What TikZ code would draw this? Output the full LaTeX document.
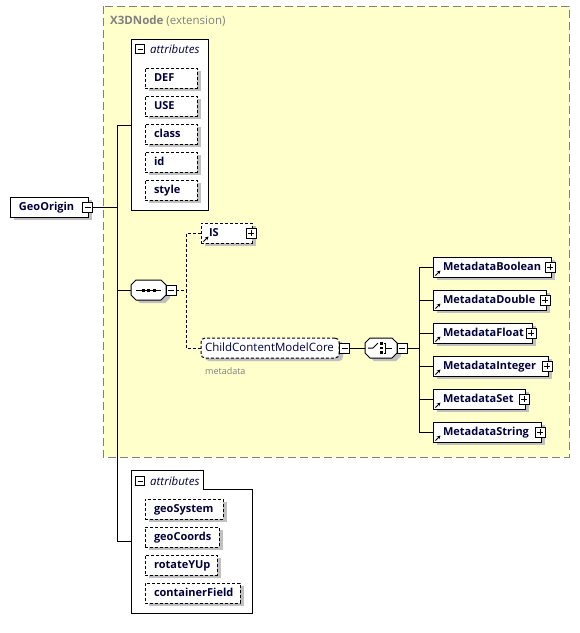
\documentclass[tikz,border=0pt]{standalone}
\usepackage{fontspec}
\setmainfont{Open Sans}
\usetikzlibrary{shadows,arrows.meta}
\definecolor{extfill}{RGB}{255,255,204}
\definecolor{extline}{RGB}{128,128,128}
\definecolor{shgray}{RGB}{192,192,192}
\definecolor{txt}{RGB}{0,0,60}
\definecolor{graytxt}{RGB}{128,128,128}
\tikzset{
 base/.style={line width=1pt, fill=white, inner sep=0pt, minimum height=20pt, text height=9pt, text depth=3pt, text=txt,
   drop shadow={shadow xshift=4pt, shadow yshift=-3pt, fill=shgray, opacity=1}},
 elem/.style={base, draw, font=\bfseries\fontsize{11}{13}\selectfont},
 optelem/.style={elem, dash pattern=on 3pt off 2pt},
 grp/.style={base, draw, dash pattern=on 3pt off 2pt, rounded corners=4pt, font=\fontsize{11.5}{13}\selectfont},
 minus/.style={draw, fill=white, line width=0.9pt, minimum size=10pt, inner sep=0pt,
   path picture={\draw[line width=0.9pt] ([xshift=2pt]path picture bounding box.west) -- ([xshift=-2pt]path picture bounding box.east);}},
 plus/.style={draw, fill=white, line width=0.9pt, minimum size=10pt, inner sep=0pt,
   path picture={\draw[line width=0.9pt] ([xshift=2pt]path picture bounding box.west) -- ([xshift=-2pt]path picture bounding box.east)
     ([yshift=2pt]path picture bounding box.south) -- ([yshift=-2pt]path picture bounding box.north);}},
 conn/.style={line width=1pt},
 dconn/.style={line width=1pt, dash pattern=on 3pt off 2pt},
 hdr/.style={anchor=west, inner sep=0pt, font=\itshape\fontsize{11.5}{13}\selectfont, text=txt},
 arrowicon/.style={line width=1pt, -{Stealth[length=3.5pt,width=3.5pt]}}
}
\newcommand\mkbox[7]{\node[#1, minimum width=#5pt, text width=#5pt, align=left] (#2) at ({#3+#5/2},#4) {\hspace*{#6pt}#7};}
\newcommand\mkplus[1]{\node[plus] (#1p) at ([xshift=-1.5pt]#1.east) {};}
\newcommand\mkarrow[1]{\draw[arrowicon] ([shift={(3pt,2pt)}]#1.south west) -- ++(5,-5);}
\newcommand\octshape[5]{%
 \fill[shgray,shift={(4,3)}] ({#1+#5},#2) -- ({#3-#5},#2) -- (#3,{#2+#5}) -- (#3,{#4-#5}) -- ({#3-#5},#4) -- ({#1+#5},#4) -- (#1,{#4-#5}) -- (#1,{#2+#5}) -- cycle;
 \draw[line width=1pt, fill=white] ({#1+#5},#2) -- ({#3-#5},#2) -- (#3,{#2+#5}) -- (#3,{#4-#5}) -- ({#3-#5},#4) -- ({#1+#5},#4) -- (#1,{#4-#5}) -- (#1,{#2+#5}) -- cycle;}
\begin{document}
\begin{tikzpicture}[x=1pt,y=-1pt]
\useasboundingbox (0,0) rectangle (580,633);
% extension area
\draw[extline, fill=extfill, line width=1pt, dash pattern=on 8pt off 4pt] (103,6) rectangle (569,457);
\node[anchor=base west, inner sep=0pt, text=graytxt, font=\fontsize{11.5}{13}\selectfont] (ext) at (110,24) {\textbf{X3DNode} (extension)};
% attributes 1
\node[draw, fill=white, line width=1pt, minimum width=77pt, minimum height=171pt, anchor=north west, inner sep=0pt] (attr1) at (131,39) {};
\node[minus, minimum size=9pt] (attr1m) at (140,49) {};
\node[hdr] (attr1t) at (150,49) {attributes};
\mkbox{optelem}{def}{145}{78}{52}{9}{DEF}
\mkbox{optelem}{use}{145}{106}{52}{9}{USE}
\mkbox{optelem}{class}{145}{134}{52}{9}{class}
\mkbox{optelem}{id}{145}{162}{52}{9}{id}
\mkbox{optelem}{style}{145}{190}{52}{9}{style}
% root
\mkbox{elem}{geo}{10}{207}{78}{9}{GeoOrigin}
\node[minus] (geom) at ([xshift=-1pt]geo.east) {};
% attributes 2
\node[inner sep=0pt, minimum width=121pt, minimum height=143pt, anchor=north west] (attr2) at (131,470) {};
\draw[line width=1pt, fill=white] (131,470) -- (203,470) -- (203,489) -- (252,489) -- (252,613) -- (131,613) -- cycle;
\node[minus, minimum size=9pt] (attr2m) at (140,481) {};
\node[hdr] (attr2t) at (150,481) {attributes};
\mkbox{optelem}{gsys}{145}{509}{78}{9}{geoSystem}
\mkbox{optelem}{gcoo}{145}{537}{74}{9}{geoCoords}
\mkbox{optelem}{ryup}{145}{565}{72}{9}{rotateYUp}
\mkbox{optelem}{cfld}{145}{593}{95}{9}{containerField}
% trunk
\coordinate (tk) at (117,207);
\draw[conn] (geom.east) -- (tk);
\draw[conn] (attr1.west) -- (attr1.west -| tk) -- (attr2.west -| tk) -- (attr2.west);
% sequence
\octshape{131}{280}{166}{300}{5}
\node[inner sep=0pt, minimum width=35pt, minimum height=20pt] (seq) at (148.5,290) {};
\draw[line width=1pt] (136,290) -- (161,290);
\fill (141.5,288.5) rectangle ++(3,3);
\fill (147,288.5) rectangle ++(3,3);
\fill (152.5,288.5) rectangle ++(3,3);
\node[minus] (seqm) at (171,290) {};
\draw[conn] (tk |- seq.west) -- (seq.west);
% IS and group
\mkbox{optelem}{is}{201}{233}{51}{8}{IS}
\mkplus{is}
\mkarrow{is}
\mkbox{grp}{cmc}{201}{348}{138}{4}{ChildContentModelCore}
\node[minus] (cmcm) at (344.5,348) {};
\node[anchor=west, inner sep=0pt, text=graytxt, font=\fontsize{9}{10}\selectfont] (mdl) at (205,371) {metadata};
\coordinate (br) at (186,290);
\draw[dconn] (seqm.east) -- (br);
\draw[dconn] (is.west) -| (br);
\draw[dconn] (cmc.west) -| (br);
% choice
\octshape{365}{338}{397}{358}{5}
\node[inner sep=0pt, minimum width=32pt, minimum height=20pt] (ch) at (381,348) {};
\draw[line width=1pt] (368,348) -- (373,348) -- (378,343);
\fill (380,342) rectangle ++(2.5,2.5);
\fill (380,346.5) rectangle ++(2.5,2.5);
\fill (380,351) rectangle ++(2.5,2.5);
\draw[line width=0.8pt] (383.5,343) -- (385,343) -- (385,353) -- (383.5,353) (385,348) -- (392,348);
\node[minus] (chm) at (402,348) {};
\draw[conn] (cmcm.east) -- (ch.west);
\coordinate (vb) at (419,348);
\draw[conn] (chm.east) -- (vb);
% elements
\mkbox{elem}{mbo}{433}{267}{118}{10}{MetadataBoolean}
\mkbox{elem}{mdo}{433}{300}{113}{10}{MetadataDouble}
\mkbox{elem}{mfl}{433}{333}{99}{10}{MetadataFloat}
\mkbox{elem}{min}{433}{366}{115}{10}{MetadataInteger}
\mkbox{elem}{mse}{433}{399}{92}{10}{MetadataSet}
\mkbox{elem}{mst}{433}{432}{108}{10}{MetadataString}
\foreach \e in {mbo,mdo,mfl,min,mse,mst}{
  \mkplus{\e}
  \mkarrow{\e}
  \draw[conn] (\e.west) -| (vb);
}
\end{tikzpicture}
\end{document}
